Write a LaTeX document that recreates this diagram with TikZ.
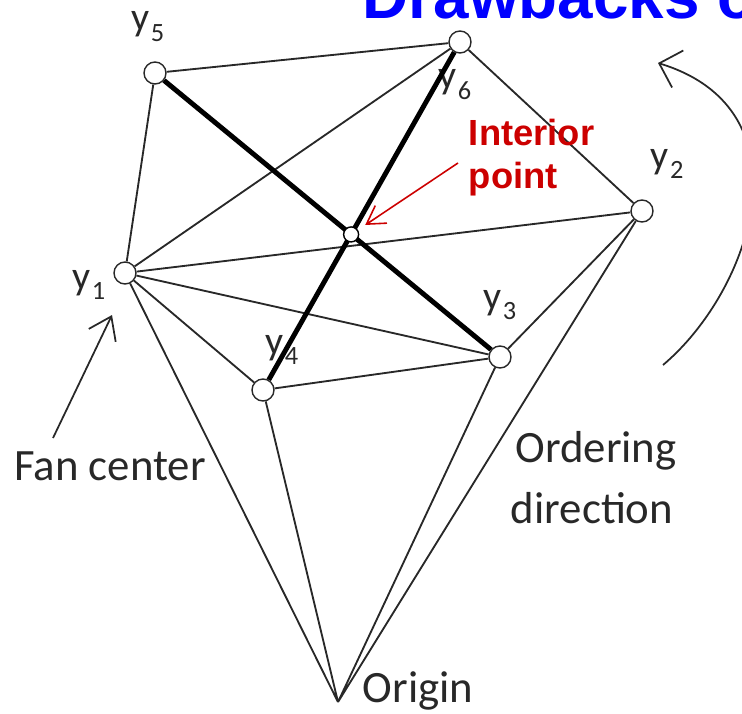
\documentclass[tikz,border=0pt]{standalone}
\usepackage{fontspec}
\setmainfont{Carlito}
\newfontfamily\arialfont{Liberation Sans}
\usetikzlibrary{arrows.meta}
\definecolor{titleblue}{RGB}{0,0,255}
\definecolor{notered}{RGB}{204,0,0}
\definecolor{inkgray}{RGB}{40,40,40}
\newcommand{\ylab}[1]{y\kern0.6pt\raisebox{-6pt}{\fontsize{15}{15}\selectfont #1}}

\begin{document}
\begin{tikzpicture}[x=0.02cm,y=-0.02cm,line width=1pt,
  vert/.style={circle,draw=inkgray,fill=white,line width=0.8pt,inner sep=0pt,minimum size=0.44cm},
  ipt/.style={circle,draw=black,fill=white,line width=0.8pt,inner sep=0pt,minimum size=0.3cm},
  edge/.style={draw=inkgray,line width=1.05pt},
  cut/.style={draw=black,line width=2.8pt},
  lab/.style={inner sep=0pt,anchor=base west,text=inkgray,font=\fontsize{22.7}{24}\selectfont},
  note/.style={inner sep=0pt,anchor=base,text=inkgray,font=\fontsize{25.5}{30}\selectfont},
  rednote/.style={inner sep=0pt,anchor=base west,text=notered,font=\arialfont\bfseries\fontsize{20.7}{24}\selectfont},
  barb/.style={draw=inkgray,line width=1pt,-{Straight Barb[length=12pt,width=17pt]}},
]
\useasboundingbox (0,0) rectangle (742,713);
\clip (0,0) rectangle (742,713);
% ---------- title (cut by the frame) ----------
\node[anchor=base west,inner sep=0pt,text=titleblue,
  font=\arialfont\bfseries\fontsize{36.3}{40}\selectfont] (title) at (362,19) {Drawbacks o};
% ---------- labels of the points ----------
\node[lab] (l1) at (72,289) {\ylab{1}};
\node[lab] (l2) at (650,168) {\ylab{2}};
\node[lab] (l3) at (483,309) {\ylab{3}};
\node[lab] (l4) at (265,354) {\ylab{4}};
\node[lab] (l5) at (131,31) {\ylab{5}};
\node[lab] (l6) at (438,89) {\ylab{6}};
% ---------- points ----------
\node[vert] (y1) at (125,273) {};
\node[vert] (y2) at (642,211) {};
\node[vert] (y3) at (500,357) {};
\node[vert] (y4) at (263,390) {};
\node[vert] (y5) at (155,73) {};
\node[vert] (y6) at (460,42) {};
\coordinate (O) at (338,702);
% ---------- fan triangulation ----------
\draw[edge] (y5) -- (y6) (y5) -- (y1) (y6) -- (y1) (y6) -- (y2)
  (y1) -- (y2) (y1) -- (y3) (y1) -- (y4) (y4) -- (y3) (y3) -- (y2);
\draw[edge] (y1) -- (O) (y4) -- (O) (y3) -- (O) (y2) -- (O);
% ---------- crossing diagonals ----------
\draw[cut] (y5) -- (y3) (y6) -- (y4);
\node[ipt] (ip) at (intersection of y5--y3 and y6--y4) {};
% ---------- notes ----------
\node[rednote] (ipa) at (468,145) {Interior};
\node[rednote] (ipb) at (468,188) {point};
\coordinate (redtail) at (458,163);
\draw[draw=notered,line width=0.9pt,-{Straight Barb[length=10pt,width=12pt]},shorten >=5pt] (redtail) -- (ip);
\node[note] (fan) at (110,480) {Fan center};
\coordinate (fantail) at (53,438);
\coordinate (fantip) at (112,315);
\draw[barb] (fantail) -- (fantip);
\node[note] (ord) at (596,462) {Ordering};
\node[note] (dir) at (592,523) {direction};
\node[note,anchor=base west] (orig) at (362,702) {Origin};
% ordering arc
\coordinate (arclow) at (663,365);
\coordinate (arctop) at (658,63);
\draw[barb,-{Straight Barb[length=11pt,width=22pt]}] (arclow) .. controls (752,290) and (812,110) .. (arctop);
\end{tikzpicture}
\end{document}
